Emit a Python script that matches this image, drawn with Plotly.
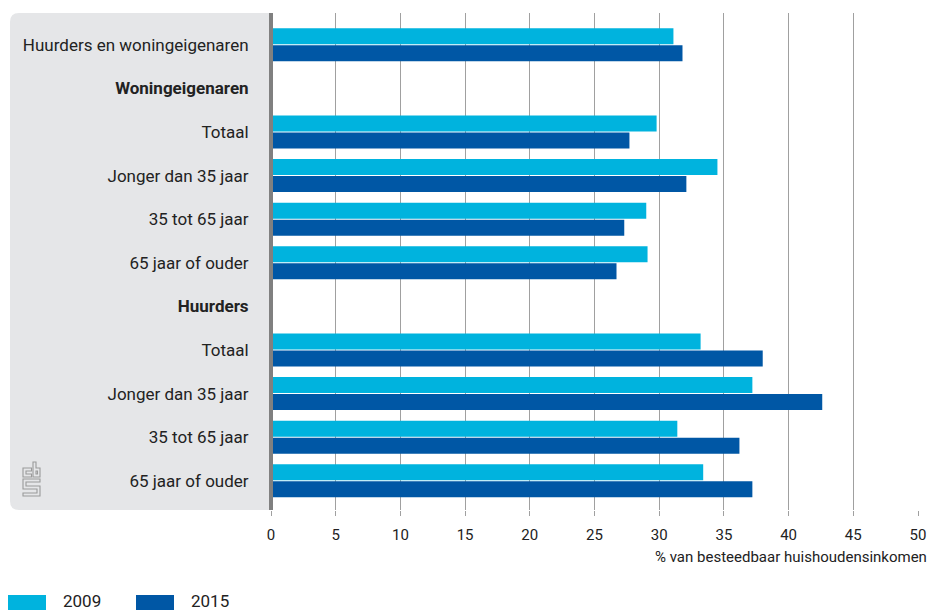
import plotly.graph_objects as go

categories = [
    "Huurders en woningeigenaren",
    "Woningeigenaren",
    "Totaal",
    "Jonger dan 35 jaar",
    "35 tot 65 jaar",
    "65 jaar of ouder",
    "Huurders",
    "Totaal",
    "Jonger dan 35 jaar",
    "35 tot 65 jaar",
    "65 jaar of ouder",
]
is_header = [False, True, False, False, False, False, True, False, False, False, False]
series_names = ["2009", "2015"]
values_2009 = [31.1, None, 29.8, 34.5, 29.0, 29.1, None, 33.2, 37.2, 31.4, 33.4]
values_2015 = [31.8, None, 27.7, 32.1, 27.3, 26.7, None, 38.0, 42.6, 36.2, 37.2]
x_ticks = [0, 5, 10, 15, 20, 25, 30, 35, 40, 45, 50]
x_title = "% van besteedbaar huishoudensinkomen"

colors = ["#00b3de", "#0057a5"]
FONT = "Roboto"

W, H = 930, 610
PL, PT, PR, PB = 271, 13, 918, 510          # plot area in window pixels
ML, MT, MR, MB = PL, PT, W - PR, H - PB
PW, PH = PR - PL, PB - PT


def px(x):
    return (x - PL) / PW


def py(y):
    return (PB - y) / PH


def path_of(pts, close=False):
    p = "M " + " L ".join(f"{px(a)},{py(b)}" for a, b in pts)
    return p + (" Z" if close else "")


ypos = list(range(len(categories)))
ticktext = [f"<b>{c}</b>" if h else c for c, h in zip(categories, is_header)]

fig = go.Figure()
for name, vals, col in zip(series_names, [values_2009, values_2015], colors):
    fig.add_trace(go.Bar(
        y=ypos, x=vals, name=name, orientation="h",
        marker=dict(color=col, line=dict(width=0)),
        showlegend=False, hoverinfo="x+name",
    ))

shapes = []
# grey label panel with rounded left corners
r = 9
x0, x1 = 10, PL
y0, y1 = PT, PB
path = (
    f"M {px(x1)},{py(y0)} L {px(x0 + r)},{py(y0)} "
    f"Q {px(x0)},{py(y0)} {px(x0)},{py(y0 + r)} "
    f"L {px(x0)},{py(y1 - r)} "
    f"Q {px(x0)},{py(y1)} {px(x0 + r)},{py(y1)} "
    f"L {px(x1)},{py(y1)} Z"
)
shapes.append(dict(type="path", xref="paper", yref="paper", path=path,
                   fillcolor="#e5e6e8", line=dict(width=0), layer="below"))
# zero axis line
shapes.append(dict(type="line", xref="paper", yref="paper",
                   x0=px(271), x1=px(271), y0=0, y1=1,
                   line=dict(color="#808080", width=4), layer="above"))

# CBS logo (outline approximation)
logo = [
    ([(31.5, 468), (23, 468), (23, 477), (31.5, 477), (31.5, 474), (26, 474),
      (26, 471), (31.5, 471)], True),
    ([(33, 462), (33, 477), (40, 477), (40, 468), (36, 468), (36, 462)], True),
    ([(36, 471), (37.5, 471), (37.5, 474), (36, 474)], True),
    ([(40, 479), (23, 479), (23, 489), (37, 489), (37, 493), (23, 493), (23, 496),
      (40, 496), (40, 486), (26, 486), (26, 482), (40, 482)], True),
]
for pts, closed in logo:
    shapes.append(dict(type="path", xref="paper", yref="paper", path=path_of(pts, closed),
                       line=dict(color="#9a9a9a", width=1.1), layer="above"))

annotations = []
# custom legend
leg_x = [8, 136]
for name, col, lx in zip(series_names, colors, leg_x):
    shapes.append(dict(type="rect", xref="paper", yref="paper",
                       x0=px(lx), x1=px(lx + 38), y0=py(595), y1=py(612),
                       fillcolor=col, line=dict(width=0)))
    annotations.append(dict(xref="paper", yref="paper", x=px(lx + 53), y=py(601),
                            text=name, showarrow=False, xanchor="left", yanchor="middle",
                            font=dict(family=FONT, size=17, color="#222")))

annotations.append(dict(xref="paper", yref="paper", x=px(929), y=py(557),
                        text=x_title, showarrow=False, xanchor="right", yanchor="middle",
                        font=dict(family=FONT, size=15, color="#222")))

fig.update_layout(
    width=W, height=H, autosize=False,
    margin=dict(l=ML, r=MR, t=MT, b=MB, pad=0, autoexpand=False),
    paper_bgcolor="white", plot_bgcolor="white",
    barmode="group", bargap=0.22, bargroupgap=0.06,
    shapes=shapes, annotations=annotations,
    font=dict(family=FONT, size=15, color="#222"),
    xaxis=dict(range=[0, 50], tickvals=x_ticks, showgrid=True, automargin=False,
               gridcolor="#a0a0a0", gridwidth=1, zeroline=False,
               ticks="outside", ticklen=5, tickcolor="#a0a0a0", tickwidth=1,
               ticklabelstandoff=6,
               showline=False, tickfont=dict(family=FONT, size=15, color="#222"),
               fixedrange=True),
    yaxis=dict(range=[10.67, -0.73], autorange=False, tickvals=ypos, ticktext=ticktext,
               automargin=False,
               showgrid=False, zeroline=False, showline=False,
               ticks="outside", ticklen=18, tickcolor="rgba(0,0,0,0)",
               tickfont=dict(family=FONT, size=17, color="#222"), fixedrange=True),
)

fig.write_html(
    "out.html",
    config={"displayModeBar": False, "responsive": False},
    post_script=(
        "document.body.style.margin='0';"
        "document.body.style.overflow='hidden';"
    ),
)
